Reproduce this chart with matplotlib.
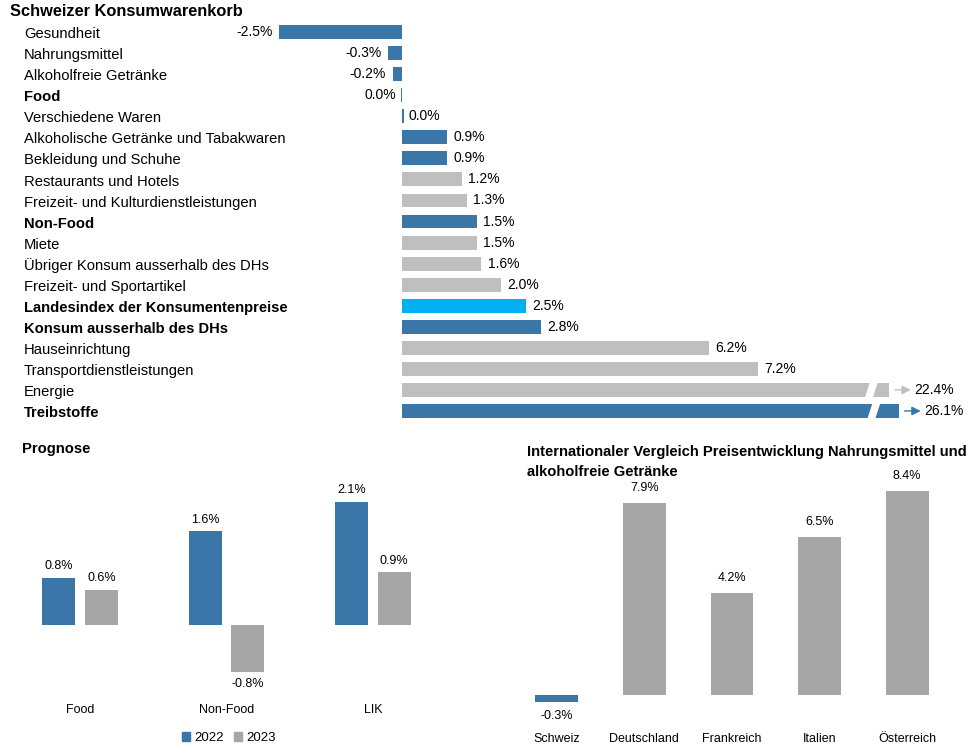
import matplotlib.pyplot as plt
from matplotlib.patches import Polygon
import matplotlib.transforms as mtransforms
import math

plt.rcParams['font.family'] = ['Liberation Sans', 'DejaVu Sans']

# top chart: Schweizer Konsumwarenkorb
kw_labels = ["Gesundheit", "Nahrungsmittel", "Alkoholfreie Getränke", "Food",
             "Verschiedene Waren", "Alkoholische Getränke und Tabakwaren",
             "Bekleidung und Schuhe", "Restaurants und Hotels",
             "Freizeit- und Kulturdienstleistungen", "Non-Food", "Miete",
             "Übriger Konsum ausserhalb des DHs", "Freizeit- und Sportartikel",
             "Landesindex der Konsumentenpreise", "Konsum ausserhalb des DHs",
             "Hauseinrichtung", "Transportdienstleistungen", "Energie", "Treibstoffe"]
kw_values = [-2.5, -0.3, -0.2, -0.0, 0.0, 0.9, 0.9, 1.2, 1.3, 1.5, 1.5, 1.6, 2.0,
             2.5, 2.8, 6.2, 7.2, 22.4, 26.1]
kw_group = ["b", "b", "b", "b", "b", "b", "b", "g", "g", "b", "g", "g", "g",
            "l", "b", "g", "g", "g", "b"]
kw_bold = ["Food", "Non-Food", "Landesindex der Konsumentenpreise",
           "Konsum ausserhalb des DHs", "Treibstoffe"]

# Prognose
prog_cats = ["Food", "Non-Food", "LIK"]
prog_2022 = [0.8, 1.6, 2.1]
prog_2023 = [0.6, -0.8, 0.9]

# Internationaler Vergleich
int_cats = ["Schweiz", "Deutschland", "Frankreich", "Italien", "Österreich"]
int_values = [-0.3, 7.9, 4.2, 6.5, 8.4]

BLUE = "#3a76a8"
GREY = "#bfbfbf"
DGREY = "#a6a6a6"
LBLUE = "#00b0f0"
colmap = {"b": BLUE, "g": GREY, "l": LBLUE}

W, H = 970, 744
fig = plt.figure(figsize=(W / 100, H / 100), dpi=100)


def px_axes(x0, y0, x1, y1):
    return fig.add_axes([x0 / W, 1 - y1 / H, (x1 - x0) / W, (y1 - y0) / H])


# ---------- top chart ----------
ax = px_axes(279, 21.5, 921, 421.5)
ax.set_xlim(-2.5, 10.5)
ax.set_ylim(18.5, -0.5)
ax.axis("off")
# truncated bars: shown length and position of the break
cap = {17: (9.85, 0.47), 18: (10.05, 0.62)}
fs = 10
lfs = 10.6
for i, (lab, v, g) in enumerate(zip(kw_labels, kw_values, kw_group)):
    c = colmap[g]
    if v == 0:
        ax.barh(i, 0.03 * (-1 if math.copysign(1, v) < 0 else 1), height=0.66, color=c)
    else:
        shown = cap[i][0] if i in cap else v
        ax.barh(i, shown, height=0.66, color=c)
    txt = "%.1f%%" % abs(v) if v == 0 else "%.1f%%" % v
    if i in cap:
        shown, back = cap[i]
        gx = shown - back
        ax.add_patch(Polygon([(gx, i + 0.36), (gx + 0.13, i + 0.36),
                              (gx + 0.23, i - 0.36), (gx + 0.1, i - 0.36)],
                             closed=True, color="white", zorder=3))
        ax.annotate("", xy=(shown + 0.5, i), xytext=(shown + 0.06, i),
                    annotation_clip=False,
                    arrowprops=dict(arrowstyle="-|>", color=c, lw=1, mutation_scale=13))
        ax.text(shown + 0.52, i, txt, va="center", ha="left", fontsize=fs)
    elif math.copysign(1, v) < 0:
        ax.text(v - 0.13, i, txt, va="center", ha="right", fontsize=fs)
    else:
        ax.text(v + 0.13, i, txt, va="center", ha="left", fontsize=fs)
    tr = mtransforms.blended_transform_factory(fig.transFigure, ax.transData)
    ax.text(24 / W, i + 0.1, lab, transform=tr, va="center", ha="left", fontsize=lfs,
            fontweight="bold" if lab in kw_bold else "normal")
fig.text(10 / W, 1 - 12 / H, "Schweizer Konsumwarenkorb", fontsize=11.8,
         fontweight="bold", va="center", ha="left")

# ---------- Prognose ----------
ax2 = px_axes(7, 478.75, 446, 683.5)
ax2.set_xlim(-0.5, 2.5)
ax2.set_ylim(-1.0, 2.5)
bw = 0.225
off = 0.145
for i in range(len(prog_cats)):
    for v, dx, c in ((prog_2022[i], -off, BLUE), (prog_2023[i], off, DGREY)):
        ax2.bar(i + dx, v, width=bw, color=c)
        if v >= 0:
            ax2.text(i + dx, v + 0.1, "%.1f%%" % v, ha="center", va="bottom", fontsize=9)
        else:
            ax2.text(i + dx, v - 0.1, "%.1f%%" % v, ha="center", va="top", fontsize=9)
for s in ax2.spines.values():
    s.set_visible(False)
ax2.set_yticks([])
ax2.set_xticks(range(len(prog_cats)))
ax2.set_xticklabels(prog_cats, fontsize=9)
ax2.tick_params(axis="x", length=0, pad=15)
fig.text(22 / W, 1 - 449 / H, "Prognose", fontsize=lfs, fontweight="bold",
         va="center", ha="left")
h1 = plt.Rectangle((0, 0), 1, 1, color=BLUE)
h2 = plt.Rectangle((0, 0), 1, 1, color=DGREY)
fig.legend([h1, h2], ["2022", "2023"], loc="center", bbox_to_anchor=(229 / W, 1 - 738 / H),
           ncol=2, frameon=False, fontsize=9.5, handlelength=0.6, handleheight=0.6,
           handletextpad=0.3, columnspacing=0.8)

# ---------- Internationaler Vergleich ----------
ax3 = px_axes(513, 476, 951, 719)
ax3.set_xlim(-0.5, 4.5)
ax3.set_ylim(-1.0, 9.0)
for i, v in enumerate(int_values):
    c = BLUE if i == 0 else DGREY
    ax3.bar(i, v, width=0.49, color=c)
    if v >= 0:
        ax3.text(i, v + 0.35, "%.1f%%" % v, ha="center", va="bottom", fontsize=9)
    else:
        ax3.text(i, v - 0.35, "%.1f%%" % v, ha="center", va="top", fontsize=9)
for s in ax3.spines.values():
    s.set_visible(False)
ax3.set_yticks([])
ax3.set_xticks(range(len(int_cats)))
ax3.set_xticklabels(int_cats, fontsize=9)
ax3.tick_params(axis="x", length=0, pad=10)
fig.text(527 / W, 1 - 452 / H, "Internationaler Vergleich Preisentwicklung Nahrungsmittel und",
         fontsize=lfs, fontweight="bold", va="center", ha="left")
fig.text(527 / W, 1 - 472 / H, "alkoholfreie Getränke",
         fontsize=lfs, fontweight="bold", va="center", ha="left")

fig.savefig("out.png", dpi=100)
